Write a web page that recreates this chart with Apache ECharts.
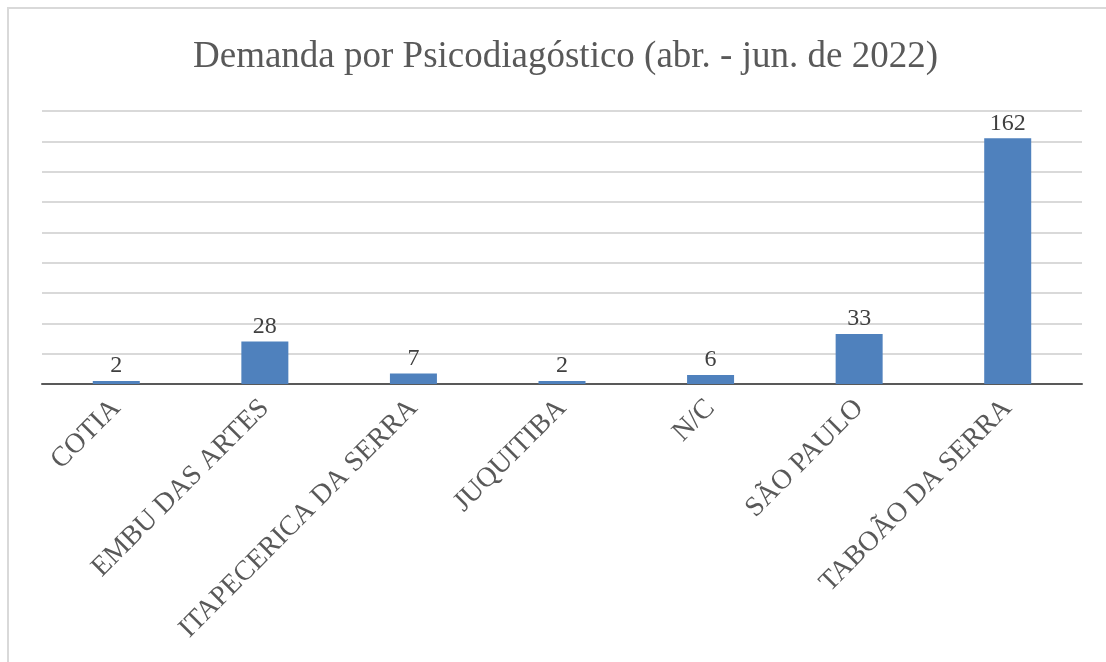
<!DOCTYPE html>
<html>
<head>
<meta charset="utf-8">
<script src="https://cdn.jsdelivr.net/npm/echarts@6/dist/echarts.min.js"></script>
<style>
  html, body { margin: 0; padding: 0; overflow: hidden; background: #fff; }
  #chart { width: 1106px; height: 662px; }
  .frame {
    position: absolute;
    left: 7px;
    top: 7px;
    width: 1300px;
    height: 900px;
    border: 2px solid #d9d9d9;
    pointer-events: none;
  }
</style>
</head>
<body>
<div id="chart"></div>
<div class="frame"></div>
<script>
  // categorias e valores (abr. - jun. de 2022)
  var municipios = ['COTIA', 'EMBU DAS ARTES', 'ITAPECERICA DA SERRA', 'JUQUITIBA', 'N/C', 'SÃO PAULO', 'TABOÃO DA SERRA'];
  var demanda = [2, 28, 7, 2, 6, 33, 162];

  var serif = "'Liberation Serif', 'Times New Roman', serif";
  var myChart = echarts.init(document.getElementById('chart'));
  var option = {
    animation: false,
    title: {
      text: 'Demanda por Psicodiagóstico (abr. - jun. de 2022)',
      left: 188,
      top: 34,
      textStyle: { fontFamily: serif, fontSize: 37, fontWeight: 'normal', color: '#595959' }
    },
    grid: {
      left: 42,
      right: 24,
      top: 111,
      bottom: 278,
      containLabel: false,
      outerBoundsMode: 'none'
    },
    xAxis: {
      type: 'category',
      data: municipios,
      axisLine: { lineStyle: { color: '#595959', width: 2 } },
      axisTick: { show: false },
      axisLabel: {
        rotate: 45,
        margin: 20,
        interval: 0,
        fontFamily: serif,
        fontSize: 28,
        color: '#595959'
      }
    },
    yAxis: {
      type: 'value',
      min: 0,
      max: 180,
      interval: 20,
      axisLabel: { show: false },
      axisLine: { show: false },
      axisTick: { show: false },
      splitLine: { lineStyle: { color: '#d9d9d9', width: 2 } }
    },
    series: [{
      type: 'bar',
      data: demanda,
      barWidth: 47,
      itemStyle: { color: '#4f81bd' },
      label: {
        show: true,
        position: 'top',
        distance: 3,
        fontFamily: serif,
        fontSize: 24,
        color: '#404040'
      }
    }]
  };
  myChart.setOption(option);
</script>
</body>
</html>
